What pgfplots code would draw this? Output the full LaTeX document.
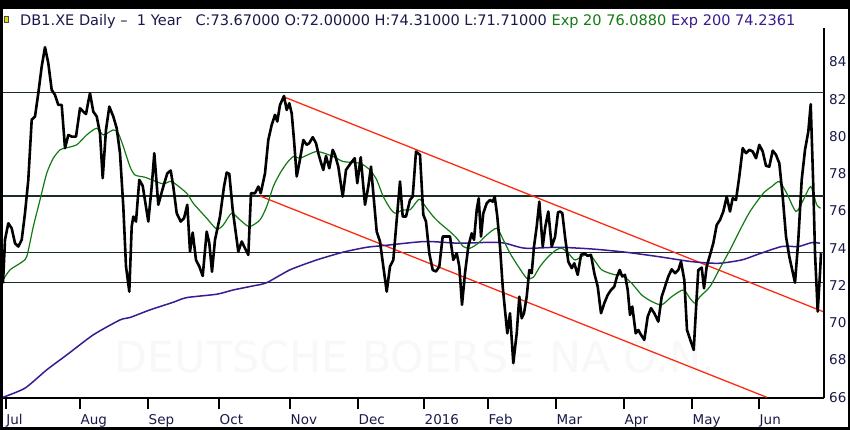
\documentclass[border=0pt]{standalone}
\usepackage{pgfplots}
\pgfplotsset{compat=1.18}
\usepackage{fontspec}
\setmainfont{DejaVu Sans}
\definecolor{labcol}{HTML}{1A1A4A}
\definecolor{emagreen}{HTML}{137A13}
\definecolor{emapurple}{HTML}{3A1A90}
\definecolor{trendred}{HTML}{FF2A14}
\definecolor{hline}{HTML}{1C2B2B}
\definecolor{wm}{HTML}{F8F8F8}
\begin{document}
\begin{tikzpicture}
\fill[black] (0,0) rectangle (850bp,-430bp);
\fill[white] (3bp,-9bp) rectangle (848bp,-427bp);
\node[anchor=center] at (415bp,-357bp) {\resizebox{600bp}{!}{\color{wm}DEUTSCHE BOERSE NA O.N.}};
\fill[yellow!75!olive] (4bp,-16.5bp) rectangle (8bp,-22bp);
\draw[black!70, line width=0.5bp] (4bp,-16.5bp) rectangle (8bp,-22bp);
\node[anchor=base west, inner sep=0pt] at (20bp,-26bp) {\resizebox{775bp}{!}{\color{labcol}DB1.XE Daily --\ \ 1 Year\ \ \ C:73.67000 O:72.00000 H:74.31000 L:71.71000 \textcolor{emagreen}{Exp 20 76.0880} \textcolor{emapurple}{Exp 200 74.2361}}};
\begin{axis}[
 at={(3bp,-398bp)}, anchor=south west,
 scale only axis, width=821bp, height=370bp,
 xmin=3, xmax=824, ymin=65.96, ymax=85.82,
 axis x line*=bottom, axis y line*=right,
 axis line style={line width=2bp, black},
 xtick={5.7,80,148,219,290,358,424,488,556,624,692,759},
 xticklabels={Jul,Aug,Sep,Oct,Nov,Dec,2016,Feb,Mar,Apr,May,Jun},
 ytick={66,68,...,84},
 tick align=outside, major tick length=11bp,
 x tick style={line width=2bp, black},
 y tick style={draw=none},
 xticklabel style={anchor=north west, inner sep=0pt, yshift=-5bp, xshift=0.5bp},
 yticklabel style={anchor=west, inner sep=0pt, xshift=-6bp},
 ticklabel style={font=\fontsize{13.5bp}{15bp}\selectfont, text=labcol},
 /pgf/number format/assume math mode=true,
 clip=true,
]
% horizontal levels
\addplot[hline, line width=1.5bp] coordinates {(3,82.35) (824,82.35)};
\addplot[hline, line width=1.5bp] coordinates {(3,76.80) (824,76.80)};
\addplot[hline, line width=1.5bp] coordinates {(3,73.77) (824,73.77)};
\addplot[hline, line width=1.5bp] coordinates {(3,72.15) (824,72.15)};
% trend channel
\addplot[trendred, line width=1.3bp] coordinates {(283,82.14) (823,70.60)};
\addplot[trendred, line width=1.3bp] coordinates {(260,76.80) (766.7,66.0)};
% EMA 200
\addplot[emapurple, line width=1.5bp, smooth, tension=0.4] coordinates {
(3,66.0) (25,66.49) (46.7,67.47) (66.7,68.27) (93.3,69.35) (120,70.15) (130,70.28)
(150,70.69) (173.3,71.10) (186.7,71.35) (216.7,71.53) (233.3,71.76) (253.3,71.98)
(266.7,72.15) (290,72.84) (316.7,73.37) (343.3,73.79) (366.7,74.05) (383.3,74.14)
(425,74.36) (458.3,74.27) (491.7,74.32) (505,74.27) (525,74.00) (558,74.05)
(591.7,73.96) (625,73.79) (658.3,73.55) (691.7,73.28) (718.3,73.19) (741.7,73.37)
(758.3,73.68) (781.7,74.09) (798.3,74.09) (811.7,74.30) (820,74.27)};
% EMA 20
\addplot[emagreen, line width=1.2bp, smooth, tension=0.4] coordinates {
(3,72.30) (10,72.84) (20,73.19) (26.7,73.55) (33.3,75.16) (40,76.59) (46.7,78.02)
(53.3,78.83) (60,79.28) (65,79.37) (76.7,79.55) (86.7,80.08) (96.7,80.44) (103.3,80.08)
(113.3,80.35) (118.3,80.17) (123.3,79.46) (130,78.38) (135,77.93) (145,77.81)
(151.7,77.67) (163.3,77.45) (171.7,77.58) (186.7,76.95) (193.3,76.41) (206.7,75.61)
(216.7,75.02) (223.3,75.25) (231.7,75.88) (240,75.52) (249.3,75.16) (260,75.52)
(266.7,76.24) (273.3,77.31) (280,78.02) (286.7,78.56) (293.3,78.92) (300,78.83)
(316.7,79.19) (333.3,78.92) (343.3,78.65) (360,78.56) (370,78.20) (376.7,77.67)
(383.3,76.77) (390,76.15) (395,75.88) (403.3,76.06) (410,76.06) (416.7,76.50)
(420,76.63) (426.7,76.15) (433.3,75.70) (440,75.34) (450,74.89) (456.7,74.54)
(463.3,74.09) (470,74.00) (478.3,74.27) (486.7,74.71) (496.7,75.07) (503.3,74.45)
(510,73.73) (518.3,73.02) (526.7,72.39) (533.3,72.44) (540,73.02) (548.3,73.55)
(556,73.90) (561.7,74.00) (568.3,73.73) (575,73.37) (585,73.64) (591.7,73.55)
(601.7,72.84) (615,72.57) (621.7,72.57) (631.7,72.12) (641.7,71.49) (651.7,71.14)
(661.7,70.96) (671.7,71.40) (683.3,71.76) (690,71.31) (695,71.05) (700,71.40)
(710,71.94) (720,72.93) (730,73.91) (740,74.98) (750,75.97) (763.3,76.95)
(771.7,77.31) (779.3,77.58) (786.7,76.95) (796,75.97) (803.3,76.59) (810.7,77.31)
(816.7,76.33) (820.7,76.15)};
% price
\addplot[black, line width=2.6bp, line join=round] coordinates {
(3,72.12) (5,74.45) (8.3,75.34) (11.7,75.07) (15,74.27) (18.3,74.09) (21.7,74.45)
(25,75.88) (28.3,77.67) (31.7,80.89) (35,81.07) (38.3,82.32) (41.7,83.75) (45,84.79)
(48.3,83.93) (51.7,82.50) (55,82.23) (58.3,81.69) (61.7,81.69) (65,79.37) (68.3,80.08)
(71.7,79.99) (76,79.99) (80,81.51) (83.3,81.33) (86,81.2) (88.3,81.87) (90,82.32)
(93.3,81.33) (96.7,81.07) (100,80.17) (102.7,77.76) (106,80.35) (109.3,81.60)
(113.3,81.07) (116.7,80.44) (120,79.10) (123.3,76.24) (126,73.02) (129.3,71.67)
(131.7,75.16) (133.3,75.70) (136,75.43) (139.3,77.67) (142.7,77.35) (148.3,75.43)
(151.7,77.31) (154.3,79.10) (158.3,76.33) (163.3,77.31) (167.3,78.02) (170.7,78.17)
(173.3,77.31) (176.7,75.88) (180.7,75.43) (184,75.61) (187.3,76.33) (190,73.82)
(192.7,74.84) (196,73.37) (199.3,73.02) (202.7,72.51) (206.7,74.89) (209.3,74.27)
(212,72.74) (215,74.45) (220,75.70) (224,77.31) (226.7,78.06) (229.3,77.99)
(232.7,76.06) (238.3,73.82) (241.7,74.36) (248.3,73.64) (251,76.95) (255,76.95)
(258.3,77.31) (260.7,76.95) (265,78.02) (268.3,79.81) (271.7,80.62) (275,81.16)
(277.3,80.80) (280,81.69) (284,82.17) (286.7,81.42) (289.3,81.78) (291.7,81.24)
(294,79.81) (296.7,77.85) (299.3,78.56) (303.3,79.81) (306.7,79.55) (309.3,79.64)
(312.7,79.96) (316,79.64) (318.3,79.10) (320.7,78.65) (323.3,78.20) (326,78.95)
(329.3,78.29) (332.7,79.28) (335,79.01) (338.3,78.38) (342.7,76.77) (346,78.20)
(350.7,78.56) (354.7,78.83) (357.3,77.49) (360.7,78.88) (365,76.33) (368.3,77.31)
(371,78.38) (373.3,76.95) (376.7,74.89) (380,74.36) (383.3,73.02) (386.7,71.67)
(390,73.02) (393.3,73.37) (396.7,75.52) (400,77.58) (402.7,75.70) (406,75.70)
(410,76.59) (412.7,76.77) (416,79.19) (420,79.01) (423.3,75.80) (426,75.43)
(429.3,73.73) (432.7,72.83) (436,72.75) (439.3,73.02) (442.7,74.63) (446.7,74.63)
(450,74.63) (453.3,73.37) (456.7,73.73) (459.3,73.02) (462,70.96) (465,72.66)
(468.3,74.09) (471.7,74.80) (474,74.45) (476.7,76.06) (478.7,76.68) (481,74.63)
(483.3,75.88) (486.7,76.41) (490,76.59) (492.7,76.50) (494.7,76.77) (497.3,75.70)
(500,74.09) (502.7,71.94) (505.3,70.51) (507.3,69.43) (510,70.51) (513.3,67.83)
(516.7,69.43) (519.3,71.40) (521.7,70.24) (524,70.51) (526.7,71.40) (529.3,72.83)
(531.7,72.66) (534,74.09) (536.7,75.16) (539.3,76.50) (542.7,74.09) (545.3,75.16)
(548.3,75.97) (551.7,74.09) (555,74.60) (558,75.92) (560,75.97) (562.3,75.88)
(565,74.63) (568.3,73.28) (571.7,72.93) (574.3,73.19) (577.7,72.57) (581,73.64)
(584.3,73.73) (587.7,73.59) (591,73.64) (594.3,72.66) (597.7,71.94) (601,70.51)
(604.3,71.05) (607.7,71.49) (611,71.76) (614.3,71.94) (617,72.48) (619.7,72.83)
(622.3,72.48) (625,72.57) (627.7,71.76) (630,70.42) (632.3,70.87) (635.7,69.43)
(638.3,69.61) (641,69.35) (644.3,69.08) (647.7,70.33) (651,70.78) (654.3,70.51)
(658.3,70.06) (661.7,71.40) (665,71.94) (668.3,72.48) (671.7,72.87) (675,72.66)
(678.3,72.83) (681,73.28) (684.3,72.30) (687,69.61) (690.3,69.08) (693.7,68.54)
(696.7,71.40) (698.3,72.83) (701.7,72.96) (704,71.85) (706.7,73.02) (710,73.64)
(713.3,74.27) (716.7,75.25) (720,75.52) (723.3,75.97) (726.7,76.77) (730,75.97)
(732.7,76.68) (736,76.59) (739.3,77.85) (742.7,79.37) (746,79.10) (749.3,79.28)
(752.7,79.19) (756,78.83) (759.3,79.55) (762.7,79.19) (766,78.42) (769.3,78.38)
(772.7,79.24) (776,79.01) (779.3,78.56) (782.7,76.77) (786,74.63) (789.3,73.55)
(795,72.15) (798.3,74.45) (801.7,77.67) (805,79.28) (808.3,80.26) (810.7,81.73)
(813.3,77.31) (815,73.73) (817.7,70.60) (820,72.66) (821,73.73)};
\end{axis}
\pgfresetboundingbox
\useasboundingbox (0,0) rectangle (850bp,-430bp);
\end{tikzpicture}
\end{document}
